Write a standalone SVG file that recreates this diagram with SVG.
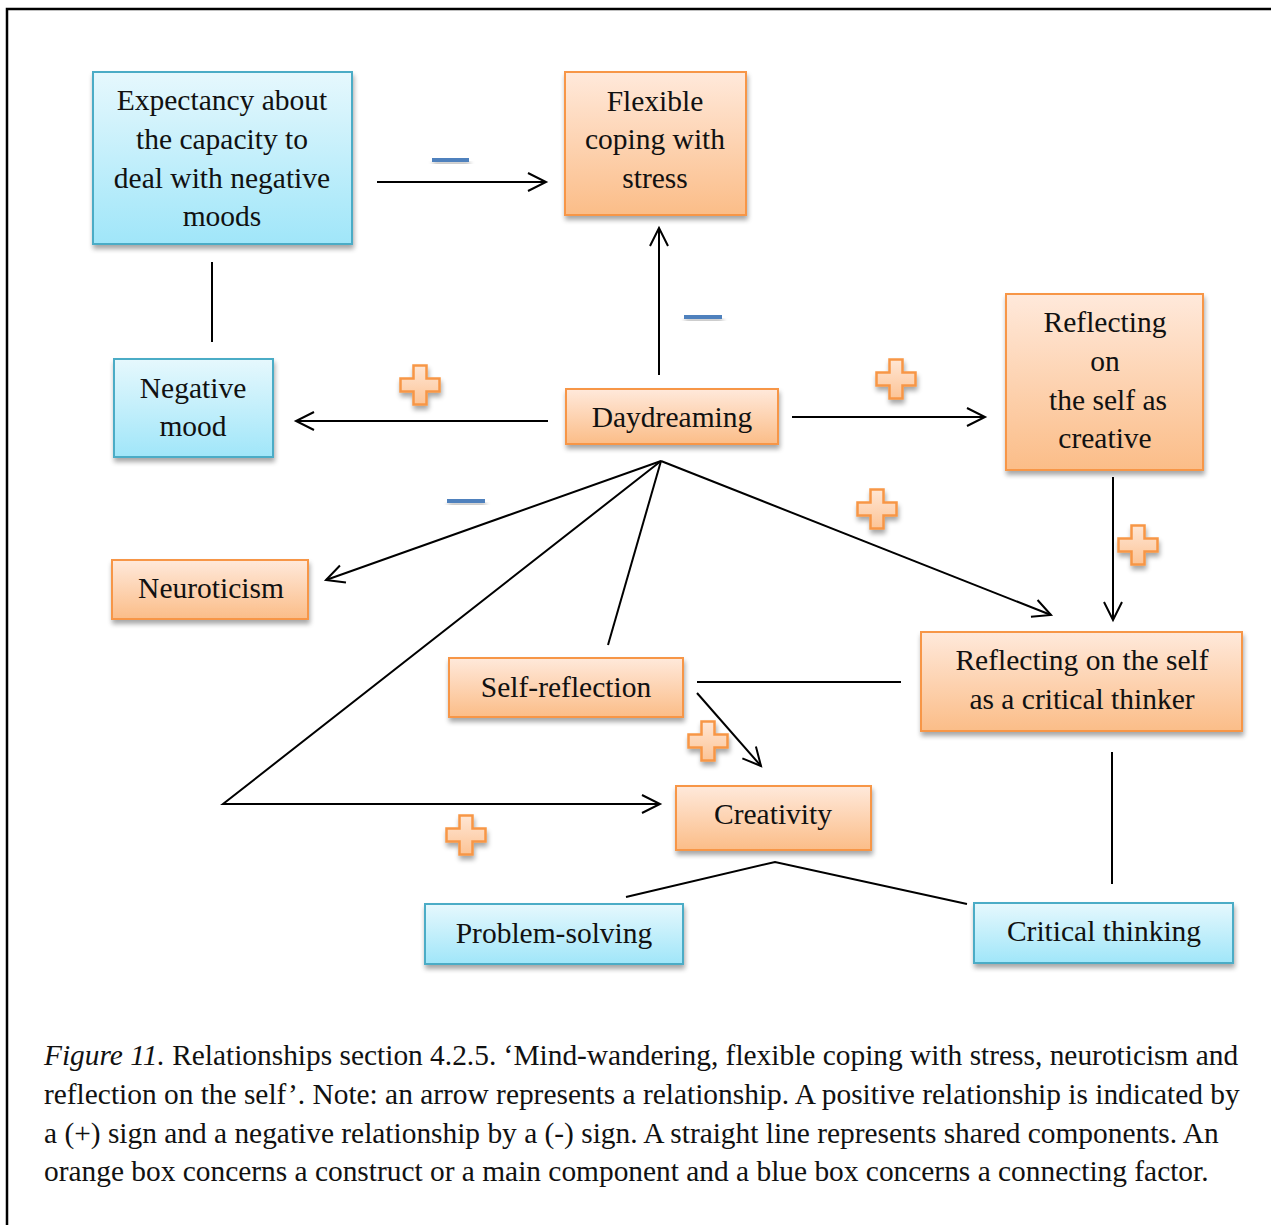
<svg xmlns="http://www.w3.org/2000/svg" width="1271" height="1225" viewBox="0 0 1271 1225">
  <style>
    .lbl { font-family: "Liberation Serif", "Times New Roman", serif; font-size: 29.5px; fill: #111; text-anchor: middle; }
    .cap { font-family: "Liberation Serif", "Times New Roman", serif; font-size: 29.4px; fill: #111; }
    .org { fill: url(#gOrange); stroke: #F79646; stroke-width: 2; filter: url(#shadow); }
    .blu { fill: url(#gBlue); stroke: #4BACC6; stroke-width: 2; filter: url(#shadow); }
    .plus { fill: url(#gPlus); stroke: #F79646; stroke-width: 2.5; filter: url(#shadow); }
    .minus { fill: #4F81BD; filter: url(#shadow); }
    .conn line, .conn path { stroke: #000; stroke-width: 2; fill: none; }
    .arr { marker-end: url(#head); }
  </style>
  <defs>
    <linearGradient id="gOrange" x1="0" y1="0" x2="0" y2="1">
      <stop offset="0" stop-color="#FFE9DB"/>
      <stop offset="1" stop-color="#FBBD88"/>
    </linearGradient>
    <linearGradient id="gBlue" x1="0" y1="0" x2="0" y2="1">
      <stop offset="0" stop-color="#E6F8FD"/>
      <stop offset="1" stop-color="#A0E6F9"/>
    </linearGradient>
    <linearGradient id="gPlus" x1="0" y1="0" x2="0" y2="1">
      <stop offset="0" stop-color="#FFE6D4"/>
      <stop offset="1" stop-color="#FCC496"/>
    </linearGradient>
    <filter id="shadow" x="-20%" y="-20%" width="140%" height="150%">
      <feGaussianBlur in="SourceAlpha" stdDeviation="2.5"/>
      <feOffset dx="1" dy="4" result="b"/>
      <feComponentTransfer><feFuncA type="linear" slope="0.35"/></feComponentTransfer>
      <feMerge><feMergeNode/><feMergeNode in="SourceGraphic"/></feMerge>
    </filter>
    <marker id="head" markerUnits="userSpaceOnUse" markerWidth="24" markerHeight="24" viewBox="0 0 24 24" refX="20" refY="12" orient="auto">
      <path d="M2,3 L20,12 L2,21" fill="none" stroke="#000" stroke-width="2"/>
    </marker>
    <path id="plusShape" d="M-6.5,-19.5 H6.5 V-6.5 H19.5 V6.5 H6.5 V19.5 H-6.5 V6.5 H-19.5 V-6.5 H-6.5 Z"/>
  </defs>

  <rect width="1271" height="1225" fill="#fff"/>
  <!-- frame: only top and left edges fall inside the page -->
  <path d="M7,1225 V9 H1271" fill="none" stroke="#000" stroke-width="2.5"/>

  <!-- connectors -->
  <g id="connectors" class="conn">
    <line class="arr" x1="377" y1="182" x2="546" y2="182"/>
    <line class="arr" x1="659" y1="375" x2="659" y2="228"/>
    <line class="arr" x1="548" y1="421" x2="296" y2="421"/>
    <line class="arr" x1="792" y1="417" x2="985" y2="417"/>
    <line x1="212" y1="262" x2="212" y2="342"/>
    <line class="arr" x1="661" y1="461" x2="326" y2="580"/>
    <path class="arr" d="M661,461 L223,804 L660,804"/>
    <line x1="661" y1="461" x2="608" y2="645"/>
    <line class="arr" x1="661" y1="461" x2="1051" y2="615"/>
    <line class="arr" x1="1113" y1="477" x2="1113" y2="620"/>
    <line x1="697" y1="682" x2="901" y2="682"/>
    <line class="arr" x1="697" y1="693" x2="761" y2="766"/>
    <line x1="1112" y1="752" x2="1112" y2="884"/>
    <path d="M626,897 L775,862 L967,904"/>
  </g>

  <!-- relationship signs -->
  <g id="signs">
    <rect class="minus" x="432" y="158" width="37" height="4"/>
    <rect class="minus" x="684" y="315" width="38" height="4"/>
    <rect class="minus" x="447" y="499" width="38" height="4"/>
    <use href="#plusShape" class="plus" transform="translate(420,385)"/>
    <use href="#plusShape" class="plus" transform="translate(896,379)"/>
    <use href="#plusShape" class="plus" transform="translate(877,509)"/>
    <use href="#plusShape" class="plus" transform="translate(1138,545)"/>
    <use href="#plusShape" class="plus" transform="translate(708,741)"/>
    <use href="#plusShape" class="plus" transform="translate(466,835)"/>
  </g>

  <!-- nodes -->
  <g id="expectancy">
    <rect class="blu" x="93" y="72" width="259" height="172"/>
    <text class="lbl" x="222" y="110">Expectancy about</text>
    <text class="lbl" x="222" y="149">the capacity to</text>
    <text class="lbl" x="222" y="188">deal with negative</text>
    <text class="lbl" x="222" y="226">moods</text>
  </g>
  <g id="flexible-coping">
    <rect class="org" x="565" y="72" width="181" height="143"/>
    <text class="lbl" x="655" y="111">Flexible</text>
    <text class="lbl" x="655" y="149">coping with</text>
    <text class="lbl" x="655" y="188">stress</text>
  </g>
  <g id="self-creative">
    <rect class="org" x="1006" y="294" width="197" height="176"/>
    <text class="lbl" x="1105" y="332">Reflecting</text>
    <text class="lbl" x="1105" y="371">on</text>
    <text class="lbl" x="1108" y="410">the self as</text>
    <text class="lbl" x="1105" y="448">creative</text>
  </g>
  <g id="negative-mood">
    <rect class="blu" x="114" y="359" width="159" height="98"/>
    <text class="lbl" x="193" y="398">Negative</text>
    <text class="lbl" x="193" y="436">mood</text>
  </g>
  <g id="daydreaming">
    <rect class="org" x="566" y="389" width="212" height="55"/>
    <text class="lbl" x="672" y="427">Daydreaming</text>
  </g>
  <g id="neuroticism">
    <rect class="org" x="112" y="560" width="196" height="59"/>
    <text class="lbl" x="211" y="598">Neuroticism</text>
  </g>
  <g id="self-reflection">
    <rect class="org" x="449" y="658" width="234" height="59"/>
    <text class="lbl" x="566" y="697">Self-reflection</text>
  </g>
  <g id="self-critical">
    <rect class="org" x="921" y="632" width="321" height="99"/>
    <text class="lbl" x="1082" y="670">Reflecting on the self</text>
    <text class="lbl" x="1082" y="709">as a critical thinker</text>
  </g>
  <g id="creativity">
    <rect class="org" x="676" y="786" width="195" height="64"/>
    <text class="lbl" x="773" y="824">Creativity</text>
  </g>
  <g id="problem-solving">
    <rect class="blu" x="425" y="904" width="258" height="60"/>
    <text class="lbl" x="554" y="943">Problem-solving</text>
  </g>
  <g id="critical-thinking">
    <rect class="blu" x="974" y="903" width="259" height="60"/>
    <text class="lbl" x="1104" y="941">Critical thinking</text>
  </g>

  <!-- caption -->
  <g id="caption">
    <text class="cap" x="44" y="1065"><tspan font-style="italic">Figure 11.</tspan> Relationships section 4.2.5. ‘Mind-wandering, flexible coping with stress, neuroticism and</text>
    <text class="cap" x="44" y="1104">reflection on the self’. Note: an arrow represents a relationship. A positive relationship is indicated by</text>
    <text class="cap" x="44" y="1143">a (+) sign and a negative relationship by a (-) sign. A straight line represents shared components. An</text>
    <text class="cap" x="44" y="1181">orange box concerns a construct or a main component and a blue box concerns a connecting factor.</text>
  </g>
</svg>
